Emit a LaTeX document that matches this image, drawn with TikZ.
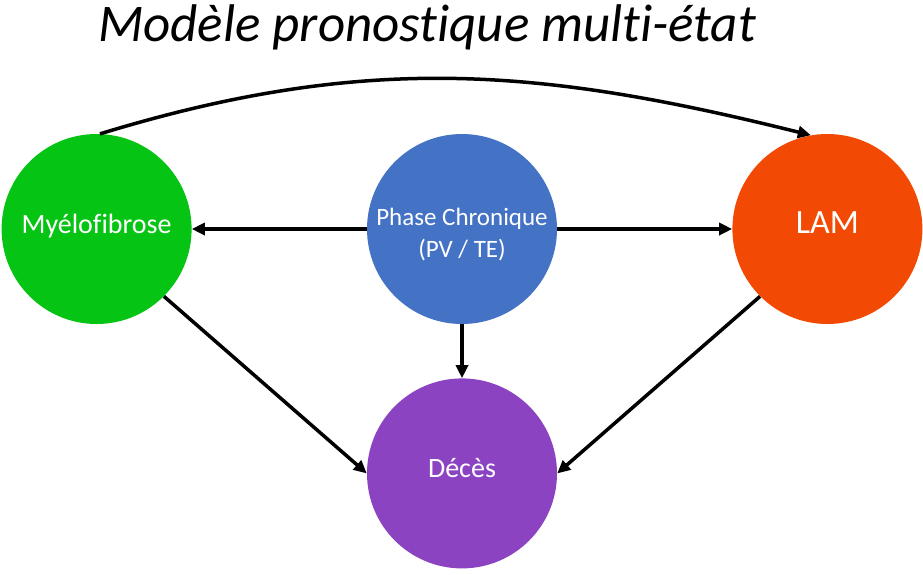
\documentclass[tikz,border=0pt]{standalone}
\usepackage{fontspec}
\setmainfont{Carlito}[Ligatures=NoCommon]
\usetikzlibrary{arrows.meta,positioning}

\definecolor{vertmf}{RGB}{5,196,19}
\definecolor{bleupc}{RGB}{68,114,196}
\definecolor{orangelam}{RGB}{242,74,4}
\definecolor{violetdc}{RGB}{139,67,194}

\tikzset{
  etat/.style={circle, minimum size=190pt, inner sep=0pt, text=white,
               text height=20pt, text depth=12pt,
               font=\fontsize{28}{32}\selectfont},
}

\begin{document}
\begin{tikzpicture}[x=1pt,y=1pt,->,>={Triangle[length=13pt,width=12pt]},
                    every edge/.append style={line width=3.5pt},node distance=175pt]
\useasboundingbox (0,0) rectangle (923,-574);
\node[font=\itshape\fontsize{53}{56}\selectfont, anchor=base] (titre) at (427,-41) {Modèle pronostique multi-état};
\node[etat, fill=bleupc, align=center, text height=, text depth=,
      font=\fontsize{25}{32}\selectfont] (PC) at (462,-229) {\rule{0pt}{29pt}Phase Chronique\\(PV / TE)};
\node[etat, fill=vertmf]    (MF)  [left=of PC]           {Myélofibrose};
\node[etat, fill=orangelam, font=\fontsize{34}{40}\selectfont] (LAM) [right=of PC] {LAM};
\node[etat, fill=violetdc]  (DC)  [below=54pt of PC]      {Décès};
\path (PC)      edge (MF)
                edge (LAM)
                edge (DC)
      (MF.-45)  edge (DC.west)
      (LAM.-135) edge (DC.east)
      (MF.88)   edge[out=17, in=166] (LAM.100);
\end{tikzpicture}
\end{document}
